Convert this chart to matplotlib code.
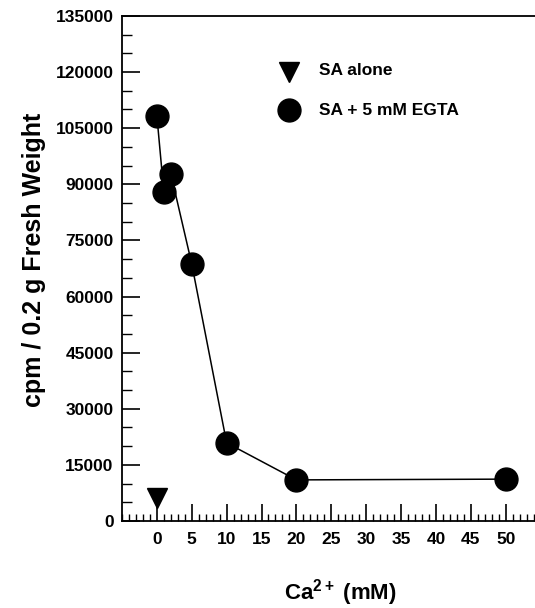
import matplotlib
matplotlib.use("Agg")
import matplotlib.pyplot as plt
from matplotlib.ticker import MultipleLocator

plt.rcParams['font.family'] = ['Liberation Sans', 'DejaVu Sans']
plt.rcParams['font.weight'] = 'bold'
plt.rcParams['mathtext.fontset'] = 'custom'
plt.rcParams['mathtext.rm'] = 'Liberation Sans:bold'
plt.rcParams['mathtext.bf'] = 'Liberation Sans:bold'
plt.rcParams['mathtext.it'] = 'Liberation Sans:bold'
plt.rcParams['mathtext.default'] = 'bf'

egta_x = [0, 1, 2, 5, 10, 20, 50]
egta_y = [108300, 87900, 92800, 68700, 20900, 11000, 11200]
alone_x = [0]
alone_y = [6100]
xticks = [0, 5, 10, 15, 20, 25, 30, 35, 40, 45, 50]
yticks = [0, 15000, 30000, 45000, 60000, 75000, 90000, 105000, 120000, 135000]
legend_labels = ['SA alone', 'SA + 5 mM EGTA']

fig = plt.figure(figsize=(5.35, 6.08), dpi=100)
ax = fig.add_axes([0.228, 0.143, 0.772, 0.831])

ax.plot(egta_x, egta_y, color='black', lw=1.1, marker='o', ms=16.5,
        mfc='black', mec='black', zorder=3)
ax.plot(alone_x, alone_y, ls='none', marker='v', ms=15, color='black', zorder=3)

ax.set_xlim(-5, 54.2)
ax.set_ylim(0, 135000)
ax.set_xticks(xticks)
ax.set_yticks(yticks)
ax.xaxis.set_minor_locator(MultipleLocator(1))
ax.yaxis.set_minor_locator(MultipleLocator(5000))
ax.tick_params(axis='both', which='major', direction='in', length=12, width=1.2,
               labelsize=12.5)
ax.tick_params(axis='both', which='minor', direction='in', length=5, width=1)
ax.tick_params(axis='x', which='major', pad=8)
ax.tick_params(axis='y', which='major', length=13, pad=6)
ax.tick_params(axis='y', which='minor', length=7)
for lab in ax.get_xticklabels() + ax.get_yticklabels():
    lab.set_fontweight('bold')

ax.spines['right'].set_visible(False)
for s in ['left', 'bottom', 'top']:
    ax.spines[s].set_linewidth(1.3)

ax.set_xlabel('Ca$^{2+}$ (mM)', fontsize=16, fontweight='bold')
ax.xaxis.set_label_coords(0.528, -0.111)
ax.set_ylabel('cpm / 0.2 g Fresh Weight', fontsize=18, fontweight='bold')
ax.yaxis.set_label_coords(-0.185, 0.516)

# legend
ax.plot([19], [120000], marker='v', ms=15, color='black', ls='none', clip_on=False)
ax.plot([19], [109900], marker='o', ms=16.5, color='black', ls='none', clip_on=False)
ax.text(23.3, 120500, legend_labels[0], fontsize=12.5, fontweight='bold', va='center')
ax.text(23.3, 109700, legend_labels[1], fontsize=12.5, fontweight='bold', va='center')

fig.savefig('out.png', dpi=100)
